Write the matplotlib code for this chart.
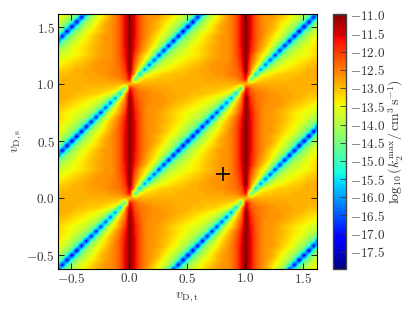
import numpy as np
import matplotlib
matplotlib.use('Agg')
import matplotlib.pyplot as plt

plt.rcParams['mathtext.fontset'] = 'cm'
plt.rcParams['font.family'] = 'serif'
plt.rcParams['font.serif'] = ['cmr10', 'DejaVu Serif']
plt.rcParams['axes.unicode_minus'] = False

# log10(k2max), one unit cell, 24 steps per unit
# rows are v_D,s = 0/24 ... 12/24, columns are v_D,t = 0/24 ... 23/24
cell_rows = [
    [-13.0, -12.9, -12.9, -12.9, -12.9, -12.9, -12.9, -12.9, -12.9, -12.9, -12.9, -12.9, -12.9, -12.9, -12.9, -12.9, -12.9, -12.9, -12.9, -12.9, -12.9, -12.9, -12.9, -12.9],
    [-11.6, -15.0, -13.5, -13.2, -13.1, -13.1, -13.0, -13.0, -13.0, -13.0, -12.9, -12.9, -12.9, -12.9, -12.9, -12.9, -12.8, -12.8, -12.8, -12.8, -12.7, -12.7, -12.6, -12.3],
    [-11.3, -12.9, -15.8, -13.8, -13.5, -13.3, -13.2, -13.1, -13.1, -13.0, -13.0, -13.0, -12.9, -12.9, -12.9, -12.8, -12.8, -12.8, -12.7, -12.7, -12.6, -12.5, -12.4, -12.2],
    [-11.0, -12.6, -13.5, -16.3, -14.3, -13.9, -13.6, -13.45, -13.35, -13.25, -13.15, -13.1, -13.0, -12.9, -12.9, -12.8, -12.8, -12.7, -12.7, -12.7, -12.6, -12.5, -12.4, -12.0],
    [-11.0, -12.4, -13.1, -14.0, -16.6, -14.5, -14.0, -13.7, -13.55, -13.45, -13.35, -13.25, -13.15, -13.05, -13.0, -12.9, -12.8, -12.7, -12.7, -12.7, -12.6, -12.5, -12.3, -11.9],
    [-11.0, -12.2, -12.8, -13.4, -14.3, -16.8, -14.6, -14.1, -13.8, -13.6, -13.5, -13.4, -13.3, -13.2, -13.1, -13.0, -12.9, -12.8, -12.7, -12.7, -12.7, -12.5, -12.3, -11.8],
    [-11.0, -12.0, -12.7, -13.2, -13.6, -14.4, -17.0, -14.7, -14.2, -13.9, -13.7, -13.6, -13.5, -13.4, -13.3, -13.15, -13.05, -12.9, -12.8, -12.7, -12.7, -12.5, -12.2, -11.7],
    [-11.0, -11.8, -12.4, -12.8, -13.3, -13.9, -14.6, -17.1, -14.7, -14.2, -13.9, -13.7, -13.55, -13.4, -13.3, -13.15, -13.0, -12.9, -12.8, -12.7, -12.7, -12.5, -12.2, -11.7],
    [-11.0, -11.7, -12.3, -12.7, -13.0, -13.4, -14.0, -14.7, -17.2, -14.8, -14.3, -14.0, -13.7, -13.5, -13.35, -13.2, -13.05, -12.9, -12.8, -12.7, -12.7, -12.5, -12.2, -11.6],
    [-11.0, -11.7, -12.2, -12.6, -12.9, -13.2, -13.6, -14.1, -14.7, -17.3, -14.8, -14.3, -14.0, -13.7, -13.5, -13.3, -13.1, -13.0, -12.85, -12.7, -12.7, -12.5, -12.2, -11.6],
    [-11.0, -11.6, -12.2, -12.5, -12.8, -13.1, -13.4, -13.7, -14.1, -14.8, -17.3, -14.9, -14.3, -13.9, -13.6, -13.4, -13.2, -13.0, -12.8, -12.7, -12.7, -12.5, -12.2, -11.6],
    [-11.0, -11.6, -12.2, -12.5, -12.7, -12.9, -13.2, -13.5, -13.8, -14.2, -14.9, -17.4, -14.9, -14.3, -13.9, -13.6, -13.4, -13.2, -13.0, -12.8, -12.7, -12.5, -12.2, -11.6],
    [-11.0, -11.6, -12.2, -12.5, -12.7, -12.8, -13.0, -13.3, -13.6, -13.9, -14.3, -15.0, -17.4, -15.0, -14.3, -13.9, -13.6, -13.3, -13.0, -12.8, -12.7, -12.5, -12.2, -11.6],
]

x_ticks = [-0.5, 0.0, 0.5, 1.0, 1.5]
y_ticks = [-0.5, 0.0, 0.5, 1.0, 1.5]
cbar_ticks = [-11.0, -11.5, -12.0, -12.5, -13.0, -13.5, -14.0, -14.5,
              -15.0, -15.5, -16.0, -16.5, -17.0, -17.5]
star_t = [0.81]
star_s = [0.21]

# rest of the cell is the same picture turned by 180 degrees
half = np.array(cell_rows)
upper = np.roll(half[11:0:-1, ::-1], 1, axis=1)
cell = np.vstack([half, upper])

# repeat the cell over the plotted range (period 1 in both directions)
idx = np.arange(-15, 40) % 24
grid = cell[np.ix_(idx, idx)]
step = 1.0 / 24
extent = [-15 * step - step / 2, 39 * step + step / 2,
          -15 * step - step / 2, 39 * step + step / 2]

fig = plt.figure(figsize=(4.15, 3.12), dpi=100)
ax = fig.add_axes([57.5 / 415, 1 - 269 / 312, 259 / 415, 255.5 / 312])
im = ax.imshow(grid, origin='lower', extent=extent, cmap='jet', vmin=-17.97, vmax=-10.95,
               interpolation='bilinear', aspect='auto')
ax.plot(star_t, star_s, '+', color='black', ms=10, mew=1.2)
ax.set_xlim(-0.62, 1.62)
ax.set_ylim(-0.62, 1.62)
ax.set_xticks(x_ticks)
ax.set_yticks(y_ticks)
ax.set_xticklabels(['$%.1f$' % v for v in x_ticks])
ax.set_yticklabels(['$%.1f$' % v for v in y_ticks])
ax.tick_params(direction='in', length=4, width=0.6, labelsize=9.5, top=True, right=True, pad=2,
               labelcolor='#333333')
ax.set_xlabel(r'$v_{\mathrm{D,t}}$', fontsize=10, color='#333333', labelpad=3)
ax.set_ylabel(r'$v_{\mathrm{D,s}}$', fontsize=10, color='#333333', labelpad=2)

cax = fig.add_axes([333 / 415, 1 - 269 / 312, 12.5 / 415, 255.5 / 312])
cb = fig.colorbar(im, cax=cax)
cb.set_ticks(cbar_ticks)
cb.set_ticklabels(['$%.1f$' % v for v in cbar_ticks])
cb.ax.tick_params(direction='in', length=4, width=0.6, labelsize=9.5, pad=3, labelcolor='#333333', color='#333333')
cb.outline.set_edgecolor('#444444')
cb.outline.set_linewidth(1.0)
cb.set_label(r'$\log_{10}(k_2^{\mathrm{max}}/\,\mathrm{cm}^3\,\mathrm{s}^{-1})$', fontsize=10,
             color='#333333', labelpad=1)

fig.savefig('out.png', dpi=100)
